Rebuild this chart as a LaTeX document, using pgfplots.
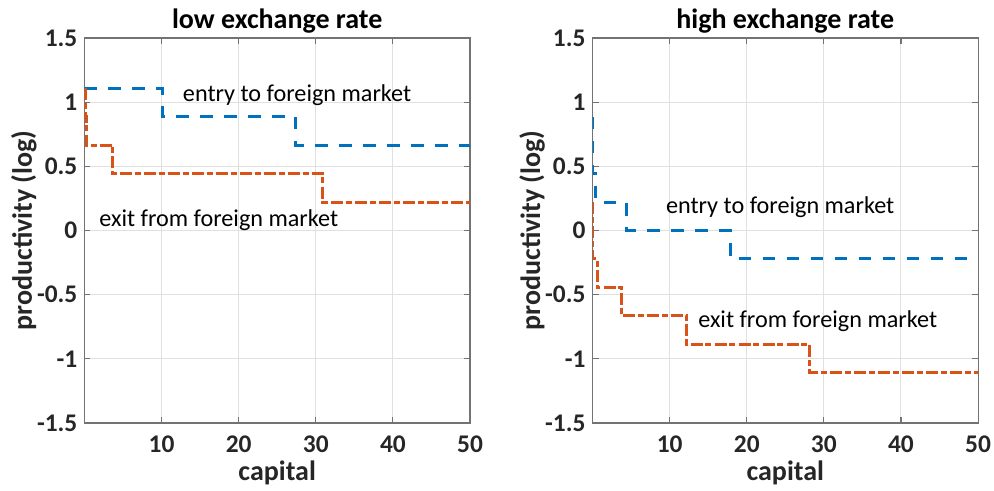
\documentclass[border=0pt]{standalone}
\usepackage{fontspec}
\setmainfont{Carlito}
\usepackage{pgfplots}
\pgfplotsset{compat=1.18}

\definecolor{mblue}{HTML}{0072BD}
\definecolor{morange}{HTML}{D95319}

\tikzset{
  entry/.style={mblue, line width=1.5pt, dash pattern=on 6.3pt off 5.7pt},
  exit/.style={morange, line width=1.5pt, dash pattern=on 6pt off 1.4pt on 3pt off 1.6pt},
  note/.style={anchor=base west, inner sep=0pt, font=\fontsize{12.1}{14}\selectfont},
}

\pgfplotsset{
  every axis title shift=0pt,
  panel/.style={
    scale only axis, width=192.8pt, height=192.5pt,
    xmin=0, xmax=50, ymin=-1.5, ymax=1.5,
    xtick={10,20,30,40,50},
    ytick={-1.5,-1,-0.5,0,0.5,1,1.5},
    yticklabels={-1.5,-1,-0.5,0,0.5,1,1.5},
    /pgf/number format/assume math mode=true,
    grid=major,
    major grid style={black!12, line width=0.5pt},
    axis line style={black!55, line width=0.6pt},
    tick style={black!55, line width=0.6pt},
    tick align=inside, major tick length=3pt,
    ticklabel style={font=\fontsize{12.7}{14}\selectfont\bfseries, text=black!85},
    xticklabel style={anchor=base, yshift=-15pt},
    label style={font=\fontsize{14}{16}\selectfont\bfseries, text=black!85},
    xlabel style={at={(axis description cs:0.5,-0.1506)}, anchor=base},
    ylabel style={at={(axis description cs:-0.1359,0.5)}, anchor=base},
    title style={at={(axis description cs:0.5,1.0252)}, anchor=base, yshift=0pt,
      font=\fontsize{14}{16}\selectfont\bfseries},
    xlabel={capital}, ylabel={productivity (log)},
  },
}

\begin{document}
\begin{tikzpicture}
\useasboundingbox (0,0) rectangle (497pt,245.5pt);

\begin{axis}[panel, at={(42.2pt,34pt)}, anchor=south west,
  title={low exchange rate}]
  \addplot[entry] coordinates {
    (0,1.109) (10.1,1.109) (10.1,0.887) (27.4,0.887)
    (27.4,0.665) (50,0.665)
  };
  \addplot[exit] coordinates {
    (0.1,1.109) (0.1,0.887) (0.3,0.887) (0.3,0.665)
    (3.7,0.665) (3.7,0.443) (30.9,0.443) (30.9,0.222) (50,0.222)
  };
  \node[note] at (axis cs:12.73,1.004) {entry to foreign market};
  \node[note] at (axis cs:1.89,0.03) {exit from foreign market};
\end{axis}

\begin{axis}[panel, at={(296.25pt,34pt)}, anchor=south west,
  title={high exchange rate}]
  \addplot[entry] coordinates {
    (0.05,0.887) (0.05,0.443) (0.45,0.443) (0.45,0.222)
    (4.4,0.222) (4.4,0) (17.9,0) (17.9,-0.222) (50,-0.222)
  };
  \addplot[exit] coordinates {
    (0.05,0.222) (0.05,-0.222) (0.6,-0.222) (0.6,-0.443)
    (3.8,-0.443) (3.8,-0.665) (12.2,-0.665) (12.2,-0.887)
    (28.2,-0.887) (28.2,-1.109) (50,-1.109)
  };
  \node[note] at (axis cs:9.48,0.134) {entry to foreign market};
  \node[note] at (axis cs:13.67,-0.755) {exit from foreign market};
\end{axis}
\end{tikzpicture}
\end{document}
